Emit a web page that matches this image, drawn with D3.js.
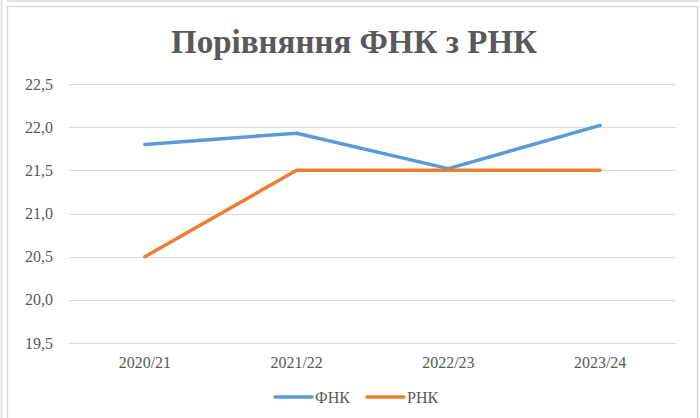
<!DOCTYPE html>
<html>
<head>
<meta charset="utf-8">
<script src="https://cdn.jsdelivr.net/npm/d3@7"></script>
<style>
  body { margin: 0; background: #fff; }
  svg { display: block; }
</style>
</head>
<body>
<div id="chart"></div>
<script>
// data
var seasons = ['2020/21', '2021/22', '2022/23', '2023/24']
var fnk = [21.8, 21.93, 21.52, 22.02]
var rnk = [20.5, 21.5, 21.5, 21.5]
var yTicks = [19.5, 20.0, 20.5, 21.0, 21.5, 22.0, 22.5]
var seriesNames = ['ФНК', 'РНК']
var colors = ['#5B9BD5', '#ED7D31']

var W = 700, H = 418
var plot = {left: 69, right: 676, top: 84, bottom: 343}
var serif = 'Liberation Serif'

var svg = d3.select('#chart')
            .append('svg')
            .attr('width', W)
            .attr('height', H)
            .attr('font-family', serif)

// frame lines (screenshot borders)
svg.append('line').attr('x1', 1.5).attr('x2', 1.5).attr('y1', 0).attr('y2', H)
   .style('stroke', '#d9d9d9').style('stroke-width', 1.5)
svg.append('line').attr('x1', 7).attr('x2', 699).attr('y1', 1).attr('y2', 1)
   .style('stroke', '#d9d9d9').style('stroke-width', 1.5)
svg.append('rect').attr('x', 7.5).attr('y', 6.5).attr('width', 690).attr('height', H)
   .style('fill', 'none').style('stroke', '#d9d9d9').style('stroke-width', 1.5)

var x = d3.scaleBand()
          .domain(seasons)
          .range([plot.left, plot.right])

var y = d3.scaleLinear()
          .domain([19.5, 22.5])
          .range([plot.bottom, plot.top])

var fmt = function(d){ return d3.format('.1f')(d).replace('.', ',') }

// gridlines
svg.append('g')
   .selectAll('line')
   .data(yTicks)
   .enter()
   .append('line')
   .attr('x1', plot.left)
   .attr('x2', plot.right)
   .attr('y1', function(d){ return Math.round(y(d)) + 0.5 })
   .attr('y2', function(d){ return Math.round(y(d)) + 0.5 })
   .style('stroke', '#d9d9d9')
   .style('stroke-width', 1)

// y labels
svg.append('g')
   .selectAll('text')
   .data(yTicks)
   .enter()
   .append('text')
   .attr('x', 53)
   .attr('y', function(d){ return y(d) + 5.5 })
   .attr('text-anchor', 'end')
   .attr('font-family', serif)
   .style('font-size', '16px')
   .style('fill', '#595959')
   .text(fmt)

// x labels
svg.append('g')
   .selectAll('text')
   .data(seasons)
   .enter()
   .append('text')
   .attr('x', function(d){ return x(d) + x.bandwidth()/2 })
   .attr('y', 368)
   .attr('text-anchor', 'middle')
   .attr('font-family', serif)
   .style('font-size', '16px')
   .style('fill', '#595959')
   .text(function(d){ return d })

// lines
var line = d3.line()
             .x(function(d, i){ return x(seasons[i]) + x.bandwidth()/2 })
             .y(function(d){ return y(d) })

;[fnk, rnk].forEach(function(s, i){
   svg.append('path')
      .datum(s)
      .attr('d', line)
      .style('fill', 'none')
      .style('stroke', colors[i])
      .style('stroke-width', 3.5)
      .style('stroke-linecap', 'round')
      .style('stroke-linejoin', 'round')
})

// title
svg.append('text')
   .attr('x', 354)
   .attr('y', 53)
   .attr('text-anchor', 'middle')
   .attr('font-family', serif)
   .style('font-size', '33px')
   .style('font-weight', 'bold')
   .style('fill', '#595959')
   .text('Порівняння ФНК з РНК')

// legend
var legendX = [275, 367]
var lg = svg.append('g')
            .selectAll('g')
            .data(seriesNames)
            .enter()
            .append('g')
            .attr('transform', function(d, i){ return 'translate(' + legendX[i] + ',397)' })

lg.append('line')
  .attr('x1', 0).attr('x2', 37)
  .style('stroke', function(d, i){ return colors[i] })
  .style('stroke-width', 3.5)
  .style('stroke-linecap', 'round')

lg.append('text')
  .attr('x', 40)
  .attr('y', 5.5)
  .attr('font-family', serif)
  .style('font-size', '16px')
  .style('fill', '#595959')
  .text(function(d){ return d })
</script>
</body>
</html>
